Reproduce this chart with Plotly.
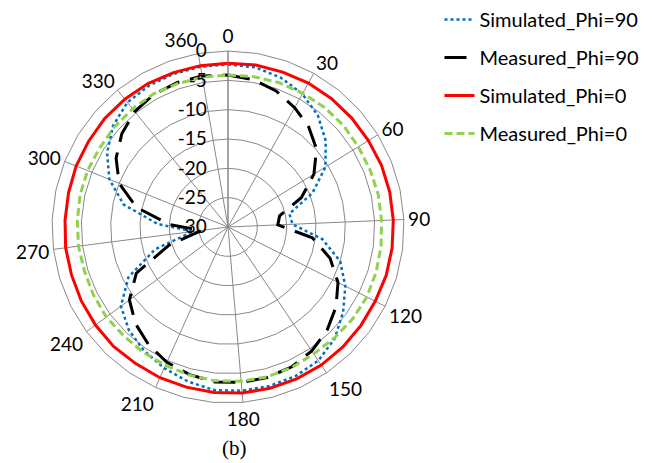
import plotly.graph_objects as go

# Angle categories (degrees) of the radar chart: 0, 10, ..., 360
angles = [str(a) for a in range(0, 361, 10)]
labeled_angles = [str(a) for a in range(0, 361, 30)]

# Normalized gain (dB) per angle
sim_phi90 = [-2.3, -2.4, -3.0, -4.0, -5.6, -7.8, -10.5, -14.5, -19.3, -19.0,
             -13.8, -10.0, -7.6, -5.6, -3.7, -2.5, -2.1, -2.0, -2.0, -2.1,
             -2.8, -3.6, -4.5, -5.6, -7.3, -11.0, -17.0, -24.0, -18.0, -11.8,
             -8.2, -5.8, -3.9, -2.7, -2.4, -2.3, -2.3]
meas_phi90 = [-4.1, -4.5, -5.4, -6.7, -8.1, -9.9, -12.8, -16.5, -21.0, -21.5,
              -15.5, -11.8, -9.0, -7.1, -5.6, -4.5, -3.8, -3.5, -3.4, -3.5,
              -4.0, -4.7, -5.8, -7.2, -9.1, -12.5, -19.5, -25.5, -20.0, -14.0,
              -10.0, -7.6, -5.9, -4.7, -4.1, -3.9, -3.9]
sim_phi0 = [-2.1, -2.0, -2.0, -1.9, -1.9, -1.9, -1.9, -1.8, -1.8, -1.8,
            -1.8, -1.8, -1.9, -1.8, -1.7, -1.6, -1.6, -1.6, -1.6, -1.7,
            -1.8, -1.8, -1.9, -1.8, -1.9, -2.0, -2.1, -2.1, -2.2, -2.2,
            -2.1, -2.1, -2.0, -2.0, -2.0, -2.1, -2.1]
meas_phi0 = [-4.1, -4.0, -3.9, -3.9, -3.8, -3.8, -3.9, -3.9, -3.8, -3.8,
             -3.7, -3.6, -3.5, -3.6, -3.8, -3.9, -3.7, -3.6, -3.6, -3.7,
             -3.9, -4.1, -4.2, -4.3, -4.2, -4.3, -4.4, -4.3, -4.3, -4.2,
             -4.2, -4.3, -4.2, -4.1, -4.0, -4.1, -4.1]

radial_ticks = [0, -5, -10, -15, -20, -25, -30]
r_min, r_max = -30, 0

GRID = "#888888"
FONT = "Lato"
FS = 19

fig = go.Figure()

# Spokes only at the labelled angles
for a in labeled_angles:
    fig.add_trace(go.Scatterpolar(
        r=[r_min, r_max], theta=[a, a], mode="lines",
        line=dict(color=GRID, width=1), showlegend=False, hoverinfo="skip"))

series = [
    ("Simulated_Phi=90", sim_phi90, dict(color="#0070c0", width=2.5, dash="dot")),
    ("Measured_Phi=90", meas_phi90, dict(color="#000000", width=3, dash="22px,11px")),
    ("Simulated_Phi=0", sim_phi0, dict(color="#ff0000", width=3)),
    ("Measured_Phi=0", meas_phi0, dict(color="#92d050", width=3, dash="8px,4px")),
]
for i, (name, vals, line) in enumerate(series):
    fig.add_trace(go.Scatterpolar(
        r=vals + [vals[0]], theta=angles + [angles[0]], mode="lines",
        name=name, line=line, legendgroup=f"g{i}"))

fig.update_layout(
    width=654, height=463,
    margin=dict(l=0, r=0, t=0, b=0),
    paper_bgcolor="white", plot_bgcolor="white",
    font=dict(family=FONT, size=FS, color="black"),
    polar=dict(
        domain=dict(x=[(228 - 176) / 654, (228 + 176) / 654],
                    y=[(236 - 176) / 463, (236 + 176) / 463]),
        gridshape="linear",
        bgcolor="white",
        angularaxis=dict(
            type="category", categoryorder="array", categoryarray=angles,
            rotation=90, direction="clockwise",
            tickmode="array", tickvals=angles,
            ticktext=[a if a in labeled_angles else "" for a in angles],
            showgrid=False, ticks="", showline=True,
            linecolor=GRID, linewidth=1,
            tickfont=dict(family=FONT, size=FS)),
        radialaxis=dict(
            range=[r_min, r_max], angle=90, tickangle=90,
            side="counterclockwise",
            tickmode="array", tickvals=radial_ticks,
            ticktext=[str(v) for v in radial_ticks],
            showline=True, linecolor=GRID, linewidth=1,
            gridcolor=GRID, gridwidth=1,
            ticks="outside", ticklen=14, tickcolor="rgba(0,0,0,0)",
            tickfont=dict(family=FONT, size=FS)),
    ),
    legend=dict(x=0.672, y=1.0, xanchor="left", yanchor="top",
                font=dict(family=FONT, size=20), tracegroupgap=9,
                bgcolor="rgba(0,0,0,0)"),
    annotations=[dict(text="(b)", x=235 / 654, y=1 - 448 / 463,
                      xref="paper", yref="paper", xanchor="center",
                      yanchor="middle", showarrow=False,
                      font=dict(family="Liberation Serif", size=21))],
)

fig.write_html("out.html")
